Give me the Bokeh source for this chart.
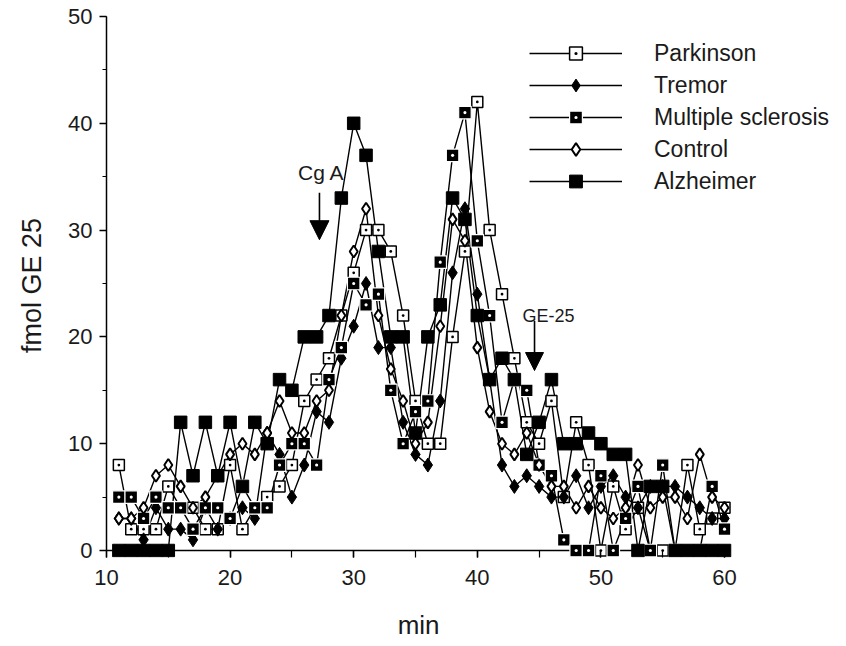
from bokeh.plotting import figure
from bokeh.models import (Range1d, SingleIntervalTicker, FixedTicker, LinearAxis, Legend,
                          LegendItem, Label, Arrow, NormalHead)
from bokeh.embed import file_html
from bokeh.resources import INLINE

# ---------------- data ----------------
minutes = list(range(11, 61))

parkinson = [8, 2, 2, 2, 6, 4, 4, 2, 2, 8,
             2, 4, 5, 6, 8, 14, 16, 18, 22, 26,
             30, 30, 28, 22, 14, 10, 10, 20, 28, 42,
             30, 24, 18, 12, 10, 14, 5, 12, 8, 0,
             6, 2, 4, 0, 0, 0, 8, 2, 3, 4]

tremor = [3, 3, 1, 4, 2, 2, 1, 4, 2, 3,
          4, 3, 11, 9, 5, 8, 13, 12, 18, 21,
          25, 19, 19, 12, 9, 8, 14, 26, 32, 24,
          16, 8, 6, 7, 6, 5, 5, 7, 4, 6,
          7, 5, 4, 6, 6, 6, 5, 4, 3, 3]

multiple_sclerosis = [5, 5, 3, 5, 4, 4, 2, 4, 4, 3,
                      6, 4, 4, 8, 10, 10, 8, 16, 19, 25,
                      23, 24, 15, 10, 13, 14, 27, 37, 41, 29,
                      22, 12, 16, 15, 8, 7, 1, 0, 0, 7,
                      0, 3, 6, 0, 8, 0, 0, 0, 6, 2]

control = [3, 3, 4, 7, 8, 6, 4, 5, 7, 9,
           10, 9, 11, 14, 11, 11, 14, 15, 22, 28,
           32, 22, 17, 14, 10, 12, 21, 31, 29, 19,
           13, 10, 9, 11, 8, 6, 6, 4, 6, 4,
           3, 4, 8, 4, 5, 5, 3, 9, 5, 4]

alzheimer = [0, 0, 0, 0, 0, 12, 7, 12, 7, 12,
             6, 12, 10, 16, 15, 20, 20, 22, 33, 40,
             37, 28, 20, 20, 11, 20, 23, 33, 31, 22,
             16, 18, 16, 9, 12, 16, 10, 10, 11, 10,
             9, 9, 0, 6, 6, 0, 0, 0, 0, 0]

series_names = ["Parkinson", "Tremor", "Multiple sclerosis", "Control", "Alzheimer"]
x_title = "min"
y_title = "fmol GE 25"
note_cga = "Cg A"
note_ge25 = "GE-25"

# ---------------- layout ----------------
W, H = 846, 646
LEFT, RIGHT, TOP, BOTTOM = 106, 5, 13, 89
PPX, PPY = 12.36, 10.68          # pixels per unit
X0 = 10.0
Y0 = -7.0 / PPY                  # frame bottom sits 7 px below y = 0 (tick length)
X1 = X0 + (W - LEFT - RIGHT) / PPX
Y1 = Y0 + (H - TOP - BOTTOM) / PPY
X_AXIS_END = 60.5
X_TITLE_POS = 35.25              # centre of the x title, under the drawn axis

FONT = "Liberation Sans"
INK = "#1a1a1a"

p = figure(width=W, height=H, x_range=Range1d(X0, X1), y_range=Range1d(Y0, Y1),
           output_backend="svg", toolbar_location=None,
           min_border_left=LEFT, min_border_right=RIGHT,
           min_border_top=TOP, min_border_bottom=BOTTOM)
p.outline_line_color = None
p.grid.visible = False

xa = p.xaxis[0]
xa.ticker = SingleIntervalTicker(interval=10, num_minor_ticks=2)
xa.bounds = (10, X_AXIS_END)
xa.axis_line_color = None          # the zero line is drawn at y = 0 below
xa.major_tick_in = 7
xa.major_tick_out = 0
xa.minor_tick_in = 7
xa.minor_tick_out = 0
xa.major_label_standoff = 12

ya = p.yaxis[0]
ya.ticker = SingleIntervalTicker(interval=10, num_minor_ticks=2)
ya.bounds = (0, 50)
ya.axis_line_color = "black"
ya.axis_line_width = 1.5
ya.major_tick_in = 0
ya.major_tick_out = 7
ya.minor_tick_in = 0
ya.minor_tick_out = 4
ya.major_label_standoff = 7
ya.axis_label = y_title
ya.axis_label_standoff = 18
ya.axis_label_text_font_size = "27px"

for ax in (xa, ya):
    ax.major_tick_line_color = "black"
    ax.minor_tick_line_color = "black"
    ax.major_tick_line_width = 1.5
    ax.minor_tick_line_width = 1.2
    ax.major_label_text_font = FONT
    ax.major_label_text_font_size = "22px"
    ax.major_label_text_color = INK
    ax.axis_label_text_font = FONT
    ax.axis_label_text_font_style = "normal"
    ax.axis_label_text_color = INK

# x-axis title, set as a lone label of a bare second axis so it sits under the drawn axis
title_axis = LinearAxis(ticker=FixedTicker(ticks=[X_TITLE_POS], minor_ticks=[]),
                        major_label_overrides={X_TITLE_POS: x_title},
                        axis_line_color=None, major_tick_line_color=None,
                        minor_tick_line_color=None, major_tick_in=0, major_tick_out=0,
                        minor_tick_in=0, minor_tick_out=0, major_label_standoff=22,
                        major_label_text_font=FONT, major_label_text_font_size="26px",
                        major_label_text_color=INK)
p.add_layout(title_axis, "below")

# x axis line at y = 0
p.segment(x0=[X0], y0=[0], x1=[X_AXIS_END], y1=[0], line_color="black", line_width=1.5)

# ---------------- series ----------------
lw = 1.4
lines = {}
for name, vals in zip(series_names, [parkinson, tremor, multiple_sclerosis, control, alzheimer]):
    lines[name] = p.line(minutes, vals, line_color="black", line_width=lw)

s_park = p.scatter(minutes, parkinson, marker="square_dot", size=11,
                   fill_color="white", line_color="black", line_width=1.5)
s_trem = p.scatter(minutes, tremor, marker="diamond", size=14,
                   fill_color="black", line_color="black", line_width=1)
s_ms = p.scatter(minutes, multiple_sclerosis, marker="square_dot", size=12.5,
                 fill_color="black", line_color="white", line_width=1.2)
s_ctrl = p.scatter(minutes, control, marker="diamond", size=12,
                   fill_color="white", line_color="black", line_width=2)
s_alz = p.scatter(minutes, alzheimer, marker="square", size=12.5,
                  fill_color="black", line_color="black", line_width=1)

scatters = [s_park, s_trem, s_ms, s_ctrl, s_alz]
items = [LegendItem(label=n, renderers=[lines[n], s]) for n, s in zip(series_names, scatters)]
legend = Legend(items=items, location=(423, 360), orientation="vertical",
                glyph_width=93, glyph_height=32, label_height=32, spacing=0,
                padding=0, margin=0, label_standoff=32,
                label_text_font=FONT, label_text_font_size="23px",
                label_text_color=INK, border_line_color=None,
                background_fill_alpha=0)
p.add_layout(legend)

# ---------------- annotations ----------------
p.add_layout(Label(x=25.5, y=35.4, text=note_cga, text_font=FONT,
                   text_font_size="21px", text_color=INK, text_baseline="alphabetic"))
p.add_layout(Label(x=43.66, y=22.0, text=note_ge25, text_font=FONT,
                   text_font_size="18px", text_color=INK, text_baseline="alphabetic"))
p.add_layout(Arrow(end=NormalHead(size=19, fill_color="black", line_color="black"),
                   x_start=27.23, y_start=33.5, x_end=27.23, y_end=29.1,
                   line_color="black", line_width=1.6))
p.add_layout(Arrow(end=NormalHead(size=18, fill_color="black", line_color="black"),
                   x_start=44.63, y_start=21.5, x_end=44.63, y_end=16.85,
                   line_color="black", line_width=1.6))

open("out.html", "w").write(file_html(p, INLINE))
